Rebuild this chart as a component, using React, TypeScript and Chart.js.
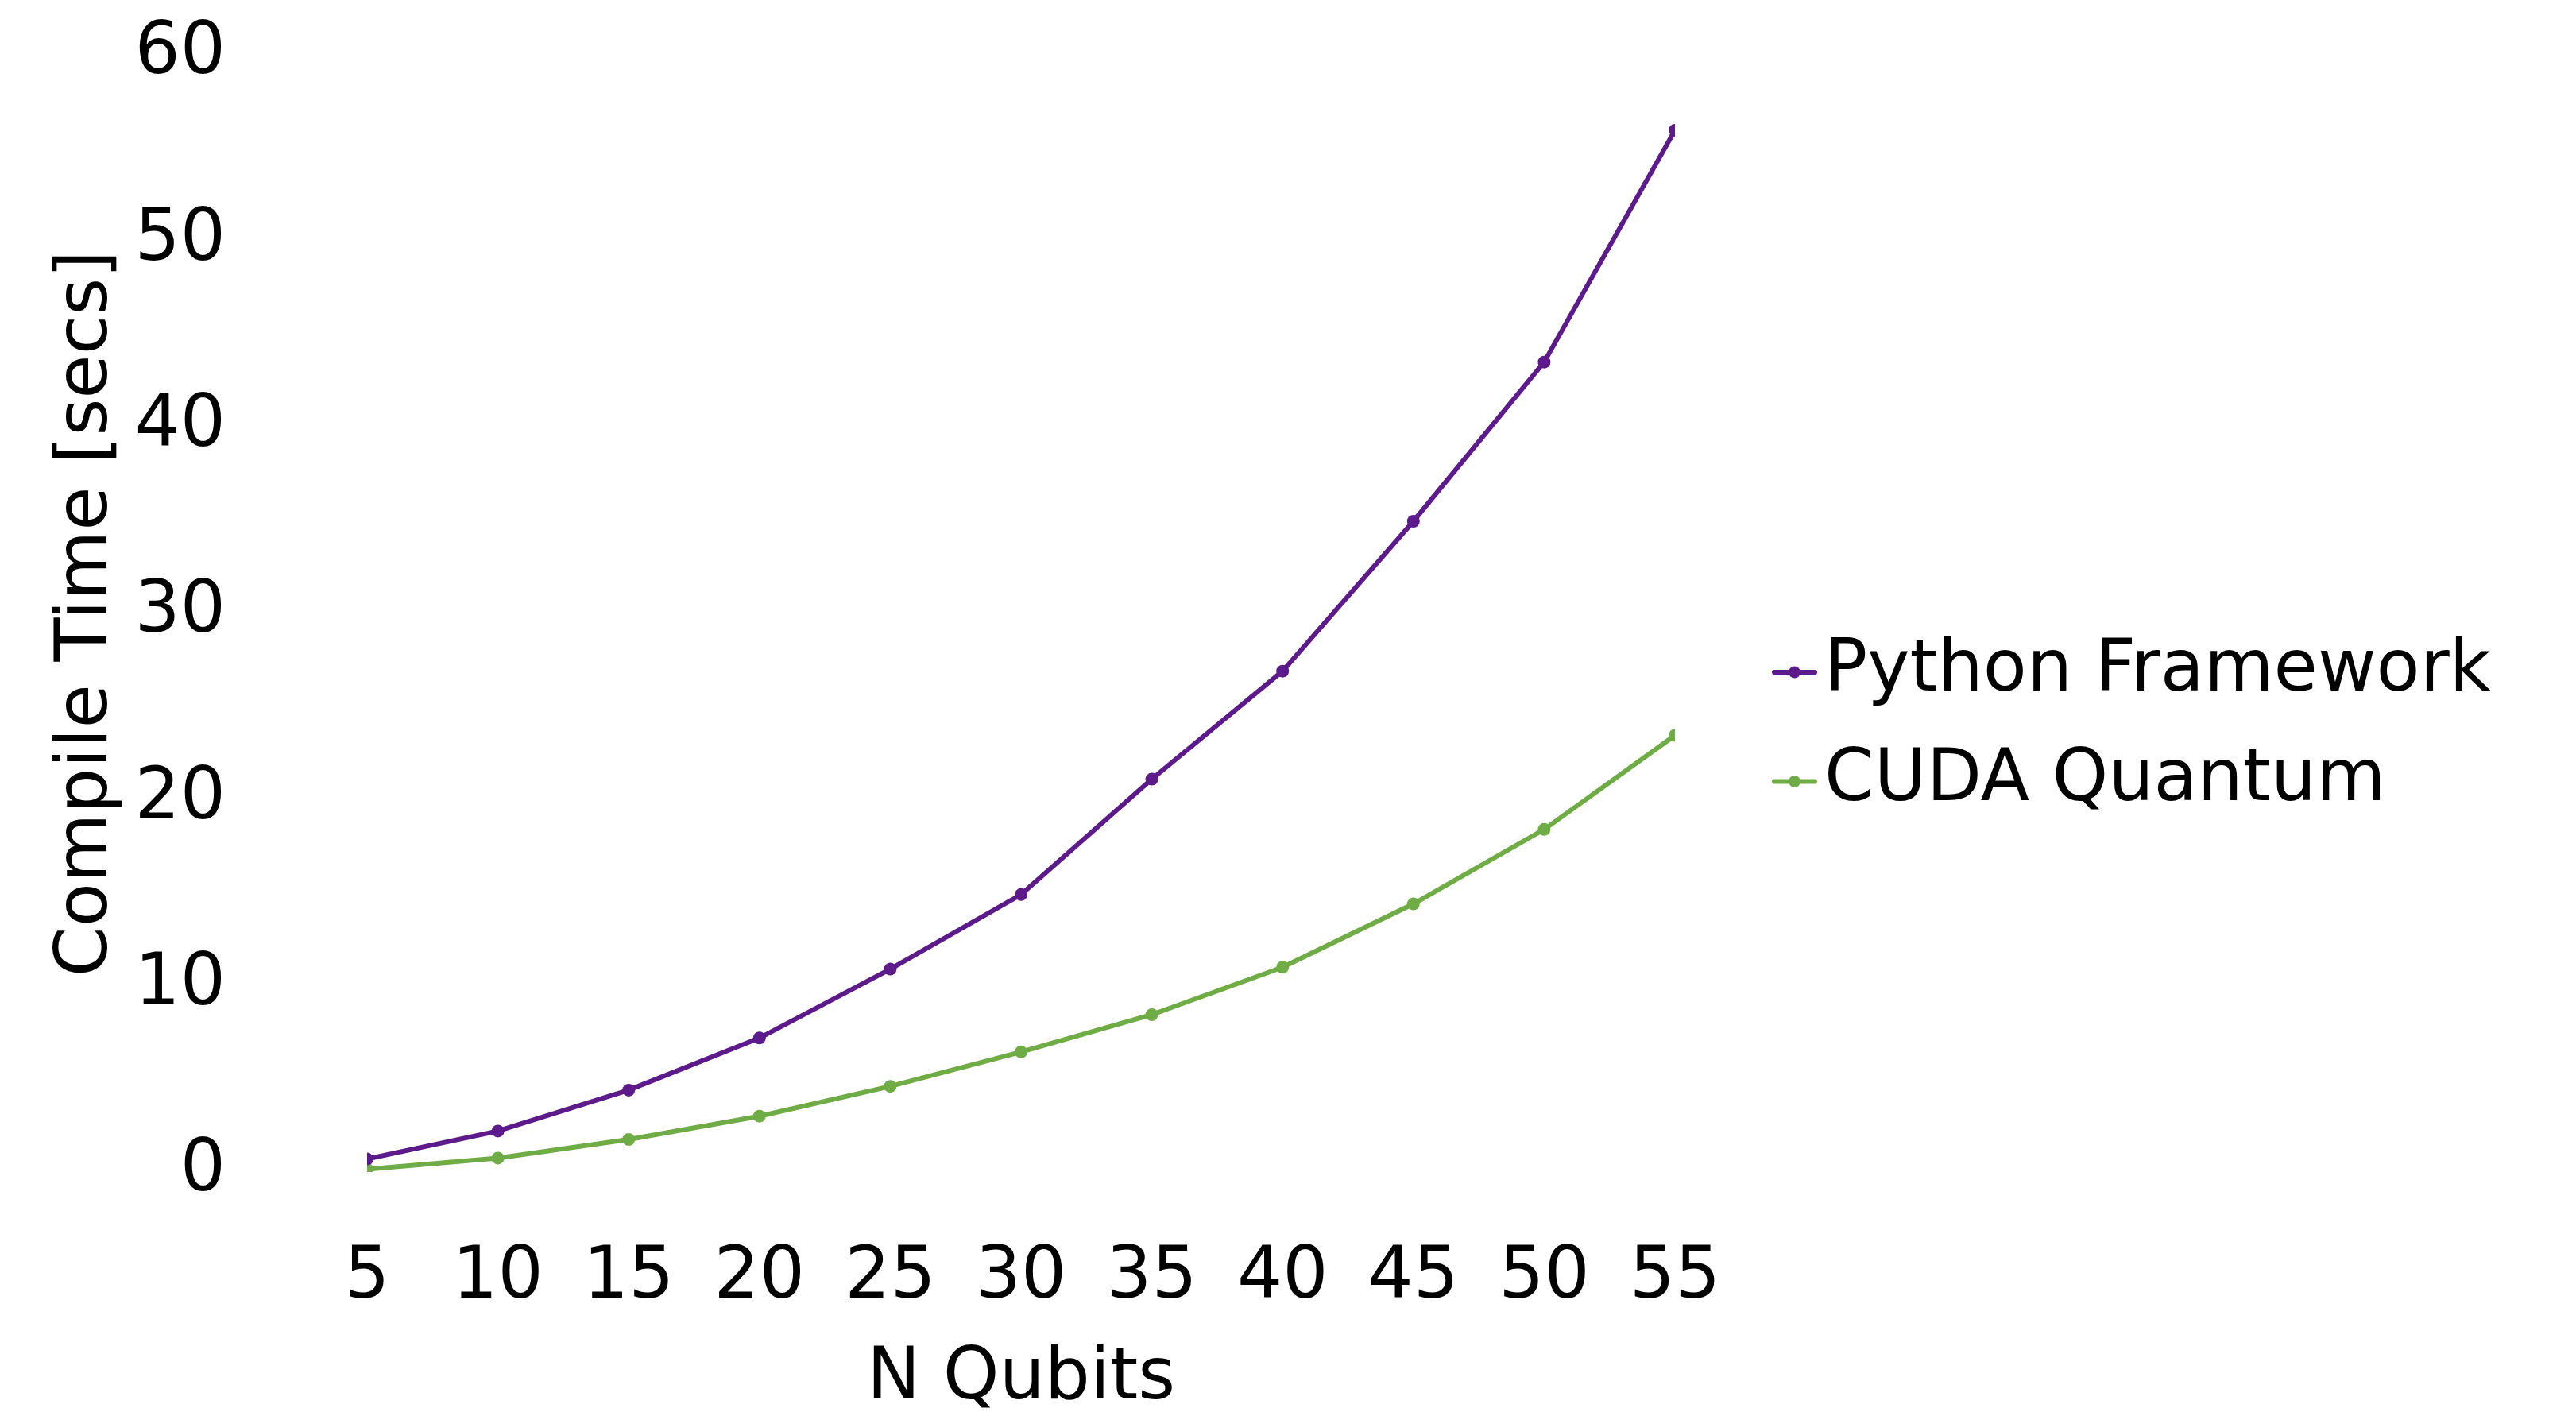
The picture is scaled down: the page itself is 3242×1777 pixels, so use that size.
import React, { useEffect, useRef } from "react";
import { Chart, registerables } from "chart.js";

Chart.register(...registerables);

const qubits = [5, 10, 15, 20, 25, 30, 35, 40, 45, 50, 55];
const pythonTimes = [0.7, 2.2, 4.4, 7.2, 10.9, 14.9, 21.1, 26.9, 34.95, 43.5, 55.95];
const cudaTimes = [0.15, 0.75, 1.75, 3.0, 4.6, 6.45, 8.45, 11.0, 14.4, 18.4, 23.45];
const seriesNames = ["Python Framework", "CUDA Quantum"];
const seriesColors = ["#5C1A8A", "#6FAC46"];
const xTitle = "N Qubits";
const yTitle = "Compile Time [secs]";

const FONT = "'DejaVu Sans', sans-serif";

const lineLegend = {
  id: "lineLegend",
  afterDraw(chart: any, _args: any, opts: any) {
    const { ctx } = chart;
    ctx.save();
    chart.data.datasets.forEach((ds: any, i: number) => {
      const y = opts.y + i * opts.step;
      ctx.strokeStyle = ds.borderColor;
      ctx.lineWidth = 6;
      ctx.lineCap = "round";
      ctx.beginPath();
      ctx.moveTo(opts.x, y);
      ctx.lineTo(opts.x + opts.len, y);
      ctx.stroke();
      ctx.fillStyle = ds.borderColor;
      ctx.beginPath();
      ctx.arc(opts.x + opts.len / 2, y, 7.5, 0, Math.PI * 2);
      ctx.fill();
      ctx.fillStyle = "#000";
      ctx.font = `90px ${FONT}`;
      ctx.textAlign = "left";
      ctx.textBaseline = "middle";
      ctx.fillText(ds.label, opts.textX, y);
    });
    ctx.restore();
  },
};

export default function App() {
  const ref = useRef<HTMLCanvasElement | null>(null);

  useEffect(() => {
    if (!ref.current) return;
    const seriesValues = [pythonTimes, cudaTimes];
    const chart = new Chart(ref.current, {
      type: "line",
      data: {
        datasets: seriesNames.map((name, i) => ({
          label: name,
          data: qubits.map((q, j) => ({ x: q, y: seriesValues[i][j] })),
          borderColor: seriesColors[i],
          backgroundColor: seriesColors[i],
          borderWidth: 6,
          pointRadius: 8,
          pointHoverRadius: 8,
          pointBorderWidth: 0,
          pointStyle: "circle",
          tension: 0,
          fill: false,
        })),
      },
      plugins: [lineLegend],
      options: {
        responsive: false,
        animation: false,
        events: [],
        layout: { padding: { top: 69, left: 0, right: 1134, bottom: 0 } },
        scales: {
          x: {
            type: "linear",
            min: 5,
            max: 55,
            grid: { display: false, drawTicks: false },
            border: { display: false },
            afterFit: (s: any) => {
              s.height = 302;
              s.paddingLeft = 0;
              s.paddingRight = 0;
            },
            ticks: {
              stepSize: 5,
              padding: 90,
              maxRotation: 0,
              color: "#000",
              font: { family: FONT, size: 90, lineHeight: 1 },
            },
            title: {
              display: true,
              text: xTitle,
              color: "#000",
              font: { family: FONT, size: 90, lineHeight: 1 },
              padding: { top: 32, bottom: -5 },
            },
          },
          y: {
            type: "linear",
            min: 0,
            max: 60,
            grid: { display: false, drawTicks: false },
            border: { display: false },
            afterFit: (s: any) => {
              s.width = 462;
              s.paddingTop = 0;
              s.paddingBottom = 0;
            },
            ticks: {
              stepSize: 10,
              padding: 178,
              color: "#000",
              font: { family: FONT, size: 90, lineHeight: 1 },
            },
            title: {
              display: true,
              text: yTitle,
              color: "#000",
              font: { family: FONT, size: 90, lineHeight: 1 },
              padding: { top: 66, bottom: 13 },
            },
          },
        },
        plugins: {
          tooltip: { enabled: false },
          legend: { display: false },
          lineLegend: { x: 2233, len: 51, textX: 2296, y: 846, step: 137.5 },
        } as any,
      },
    });
    return () => chart.destroy();
  }, []);

  return (
    <div style={{ position: "fixed", left: 0, top: 0, width: 3242, height: 1777, background: "#fff" }}>
      <canvas ref={ref} width={3242} height={1777} style={{ display: "block", width: 3242, height: 1777 }} />
    </div>
  );
}
